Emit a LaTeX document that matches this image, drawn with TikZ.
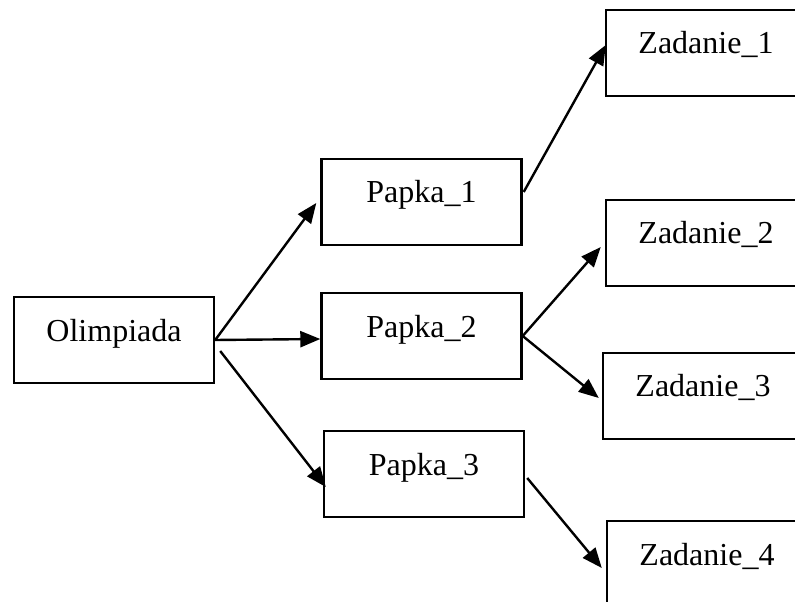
\documentclass[tikz,border=0pt]{standalone}
\usepackage{fontspec}
\setmainfont{Liberation Serif}
\usetikzlibrary{arrows.meta,calc}
\tikzset{
	box/.style={
			draw, line width=1.2bp, rectangle, inner sep=0pt,
			minimum width=100bp, text height=22bp, text depth=21bp,
			font=\fontsize{16bp}{18bp}\selectfont
		},
	link/.style={line width=1.2bp, -{Triangle[length=10bp,width=8bp]}}
}

\begin{document}
\begin{tikzpicture}[x=0.5bp, y=-0.5bp]
			\clip (0,0) rectangle (795,602);
			\useasboundingbox (0,0) rectangle (795,602);

			\node[box] (olimp) at (114,340) {Olimpiada};
			\node[box] (papka1) at (421.5,202) {Papka\_1};
			\node[box] (papka2) at (421.5,336) {Papka\_2};
			\node[box] (papka3) at (424,474) {Papka\_3};
			\node[box] (zad1) at (706,53) {Zadanie\_1};
			\node[box] (zad2) at (706,243) {Zadanie\_2};
			\node[box] (zad3) at (703,396) {Zadanie\_3};
			\node[box] (zad4) at (707,564) {Zadanie\_4};

			\draw[link] (olimp.east) -- ([shift={(-4,1)}]papka1.west);
			\draw[link] (olimp.east) -- ([shift={(0,3)}]papka2.west);
			\draw[link] ([shift={(5,11)}]olimp.east) -- ([shift={(3,13)}]papka3.west);
			\draw[link] ([shift={(1,-10)}]papka1.east) -- ([shift={(1,-8)}]zad1.west);
			\draw[link] (papka2.east) -- ([shift={(-4,4)}]zad2.west);
			\draw[link] (papka2.east) -- ([shift={(-3,2)}]zad3.west);
			\draw[link] ([shift={(2,4)}]papka3.east) -- ([shift={(-4,4)}]zad4.west);
		\end{tikzpicture}
\end{document}
